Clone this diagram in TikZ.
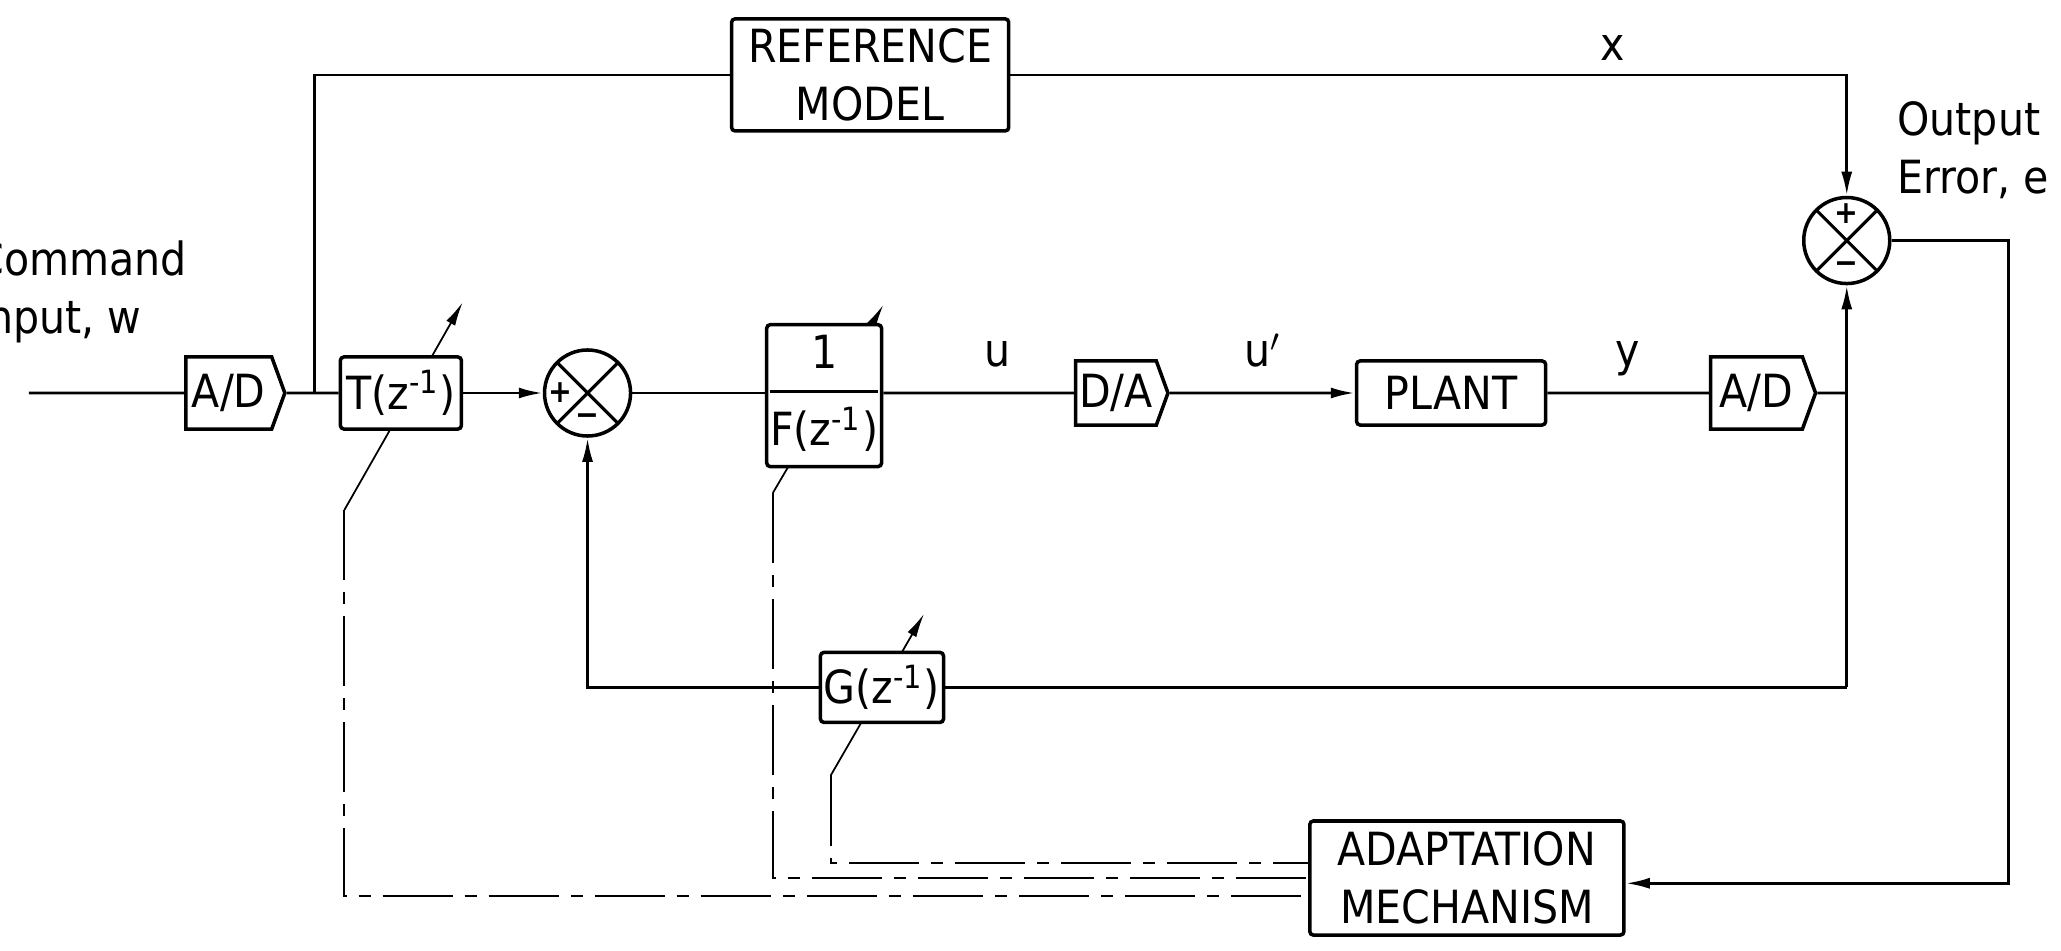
\documentclass[tikz,border=0pt]{standalone}
\usepackage{fontspec}
\setmainfont{DejaVu Sans Condensed}
\usepackage{tikz}
\usetikzlibrary{arrows.meta, positioning, shapes.symbols}

\begin{document}
\begin{tikzpicture}[
  x=0.013144cm, y=-0.013144cm,
  font=\fontsize{13}{16.5}\selectfont,
  box/.style={draw, line width=1pt, fill=white, rounded corners=1pt, align=center, inner sep=1pt},
  adc/.style={signal, signal to=east, signal pointer angle=140, draw, line width=1pt, fill=white, minimum height=0.72cm, inner sep=1pt},
  sumx/.style={circle, draw, line width=1pt, fill=white, minimum size=0.86cm, inner sep=0pt,
    path picture={\draw[line width=0.9pt] (path picture bounding box.north west) -- (path picture bounding box.south east)
      (path picture bounding box.north east) -- (path picture bounding box.south west);}},
  sgn/.style={font=\fontsize{9}{9}\selectfont\bfseries, inner sep=0pt},
  sig/.style={line width=0.8pt},
  arr/.style={-{Latex[length=2.4mm, width=1.1mm]}},
  adj/.style={line width=0.5pt, -{Latex[length=2.4mm, width=1mm]}},
  ctrl/.style={line width=0.6pt, dash pattern=on 0.7cm off 0.12cm on 0.12cm off 0.12cm}
]
  \useasboundingbox (0,0) rectangle (1568,723);

  \coordinate (inp) at (22,299);
  \coordinate (split) at (239,299);
  \coordinate (tap) at (1405,299);
  \coordinate (gtap) at (1405,523);
  \coordinate (eright) at (1528,672);
  \coordinate (tlow) at (262,388);
  \coordinate (ttip) at (352,230);
  \coordinate (flow) at (588,375);
  \coordinate (ftip) at (672,232);
  \coordinate (glow) at (632,590);
  \coordinate (gtip) at (703,467);

  \draw[adj] (tlow) -- (ttip);
  \draw[adj] (flow) -- (ftip);
  \draw[adj] (glow) -- (gtip);

  \node[adc, minimum width=0.99cm, anchor=west] (adin) at (140,299) {A/D};
  \node[box, minimum width=1.21cm, minimum height=0.72cm] (tpre) at (305,299) {T(z\textsuperscript{-1})};
  \node[sumx] (sumin) at (447,299) {};
  \node[box, minimum width=1.14cm, minimum height=1.33cm] (ffb) at (627,301)
    {\setlength{\arrayrulewidth}{0.9pt}\begin{tabular}{@{}c@{}}1\\[1pt]\hline\rule{0pt}{15pt}F(z\textsuperscript{-1})\end{tabular}};
  \node[adc, minimum width=0.92cm, minimum height=0.64cm, anchor=west] (da) at (817,299) {D/A};
  \node[box, minimum width=1.89cm, minimum height=0.64cm] (plant) at (1104,299) {PLANT};
  \node[adc, minimum width=1.05cm, anchor=west] (adout) at (1300,299) {A/D};
  \node[sumx] (sumerr) at (1405,183) {};
  \node[box, minimum width=2.77cm, minimum height=1.12cm] (refmodel) at (662,57) {REFERENCE\\MODEL};
  \node[box, minimum width=1.14cm, minimum height=0.7cm] (gfb) at (671,523) {G(z\textsuperscript{-1})};
  \node[box, minimum width=3.14cm, minimum height=1.14cm] (adapt) at (1116,668) {ADAPTATION\\MECHANISM};

  \node[sgn] (sumin-p) at ([xshift=-0.27cm]sumin.center) {+};
  \node[sgn] (sumin-m) at ([yshift=-0.27cm]sumin.center) {−};
  \node[sgn] (sumerr-p) at ([yshift=0.27cm]sumerr.center) {+};
  \node[sgn] (sumerr-m) at ([yshift=-0.27cm]sumerr.center) {−};

  \node[anchor=west, align=left, inner sep=0pt] (cmdlbl) at (-19,222) {Command\\input, w};
  \node[anchor=west, align=left, inner sep=0pt] (errlbl) at (1443,114) {Output\\Error, e};

  \draw[sig] (inp) -- (adin);
  \draw[sig] (adin) -- (tpre);
  \draw[sig] (split) |- (refmodel);
  \draw[sig, arr] (refmodel) -| node[pos=0.36, above=0.5pt] (xlbl) {x} (sumerr);
  \draw[sig, arr] (tpre) -- (sumin);
  \draw[sig] (sumin) -- (ffb.west |- sumin);
  \draw[sig] (ffb.east |- da) -- node[pos=0.6, above=3.5pt] (ulbl) {u} (da);
  \draw[sig, arr] (da) -- node[above=3.5pt] (uplbl) {u$'$} (plant);
  \draw[sig] (plant) -- node[above=1pt] (ylbl) {y} (adout);
  \draw[sig] (adout) -- (tap);
  \draw[sig, arr] (gtap) -- (sumerr);
  \draw[sig] (gtap) -- (gfb);
  \draw[sig, arr] (gfb) -| (sumin);
  \draw[sig, arr] (sumerr) -| (eright) -- (adapt.east |- eright);

  \draw[ctrl] (tlow) |- ([yshift=-0.18cm]adapt.west);
  \draw[ctrl] (flow) |- (adapt.west);
  \draw[ctrl] (glow) |- ([yshift=0.15cm]adapt.west);
\end{tikzpicture}
\end{document}
